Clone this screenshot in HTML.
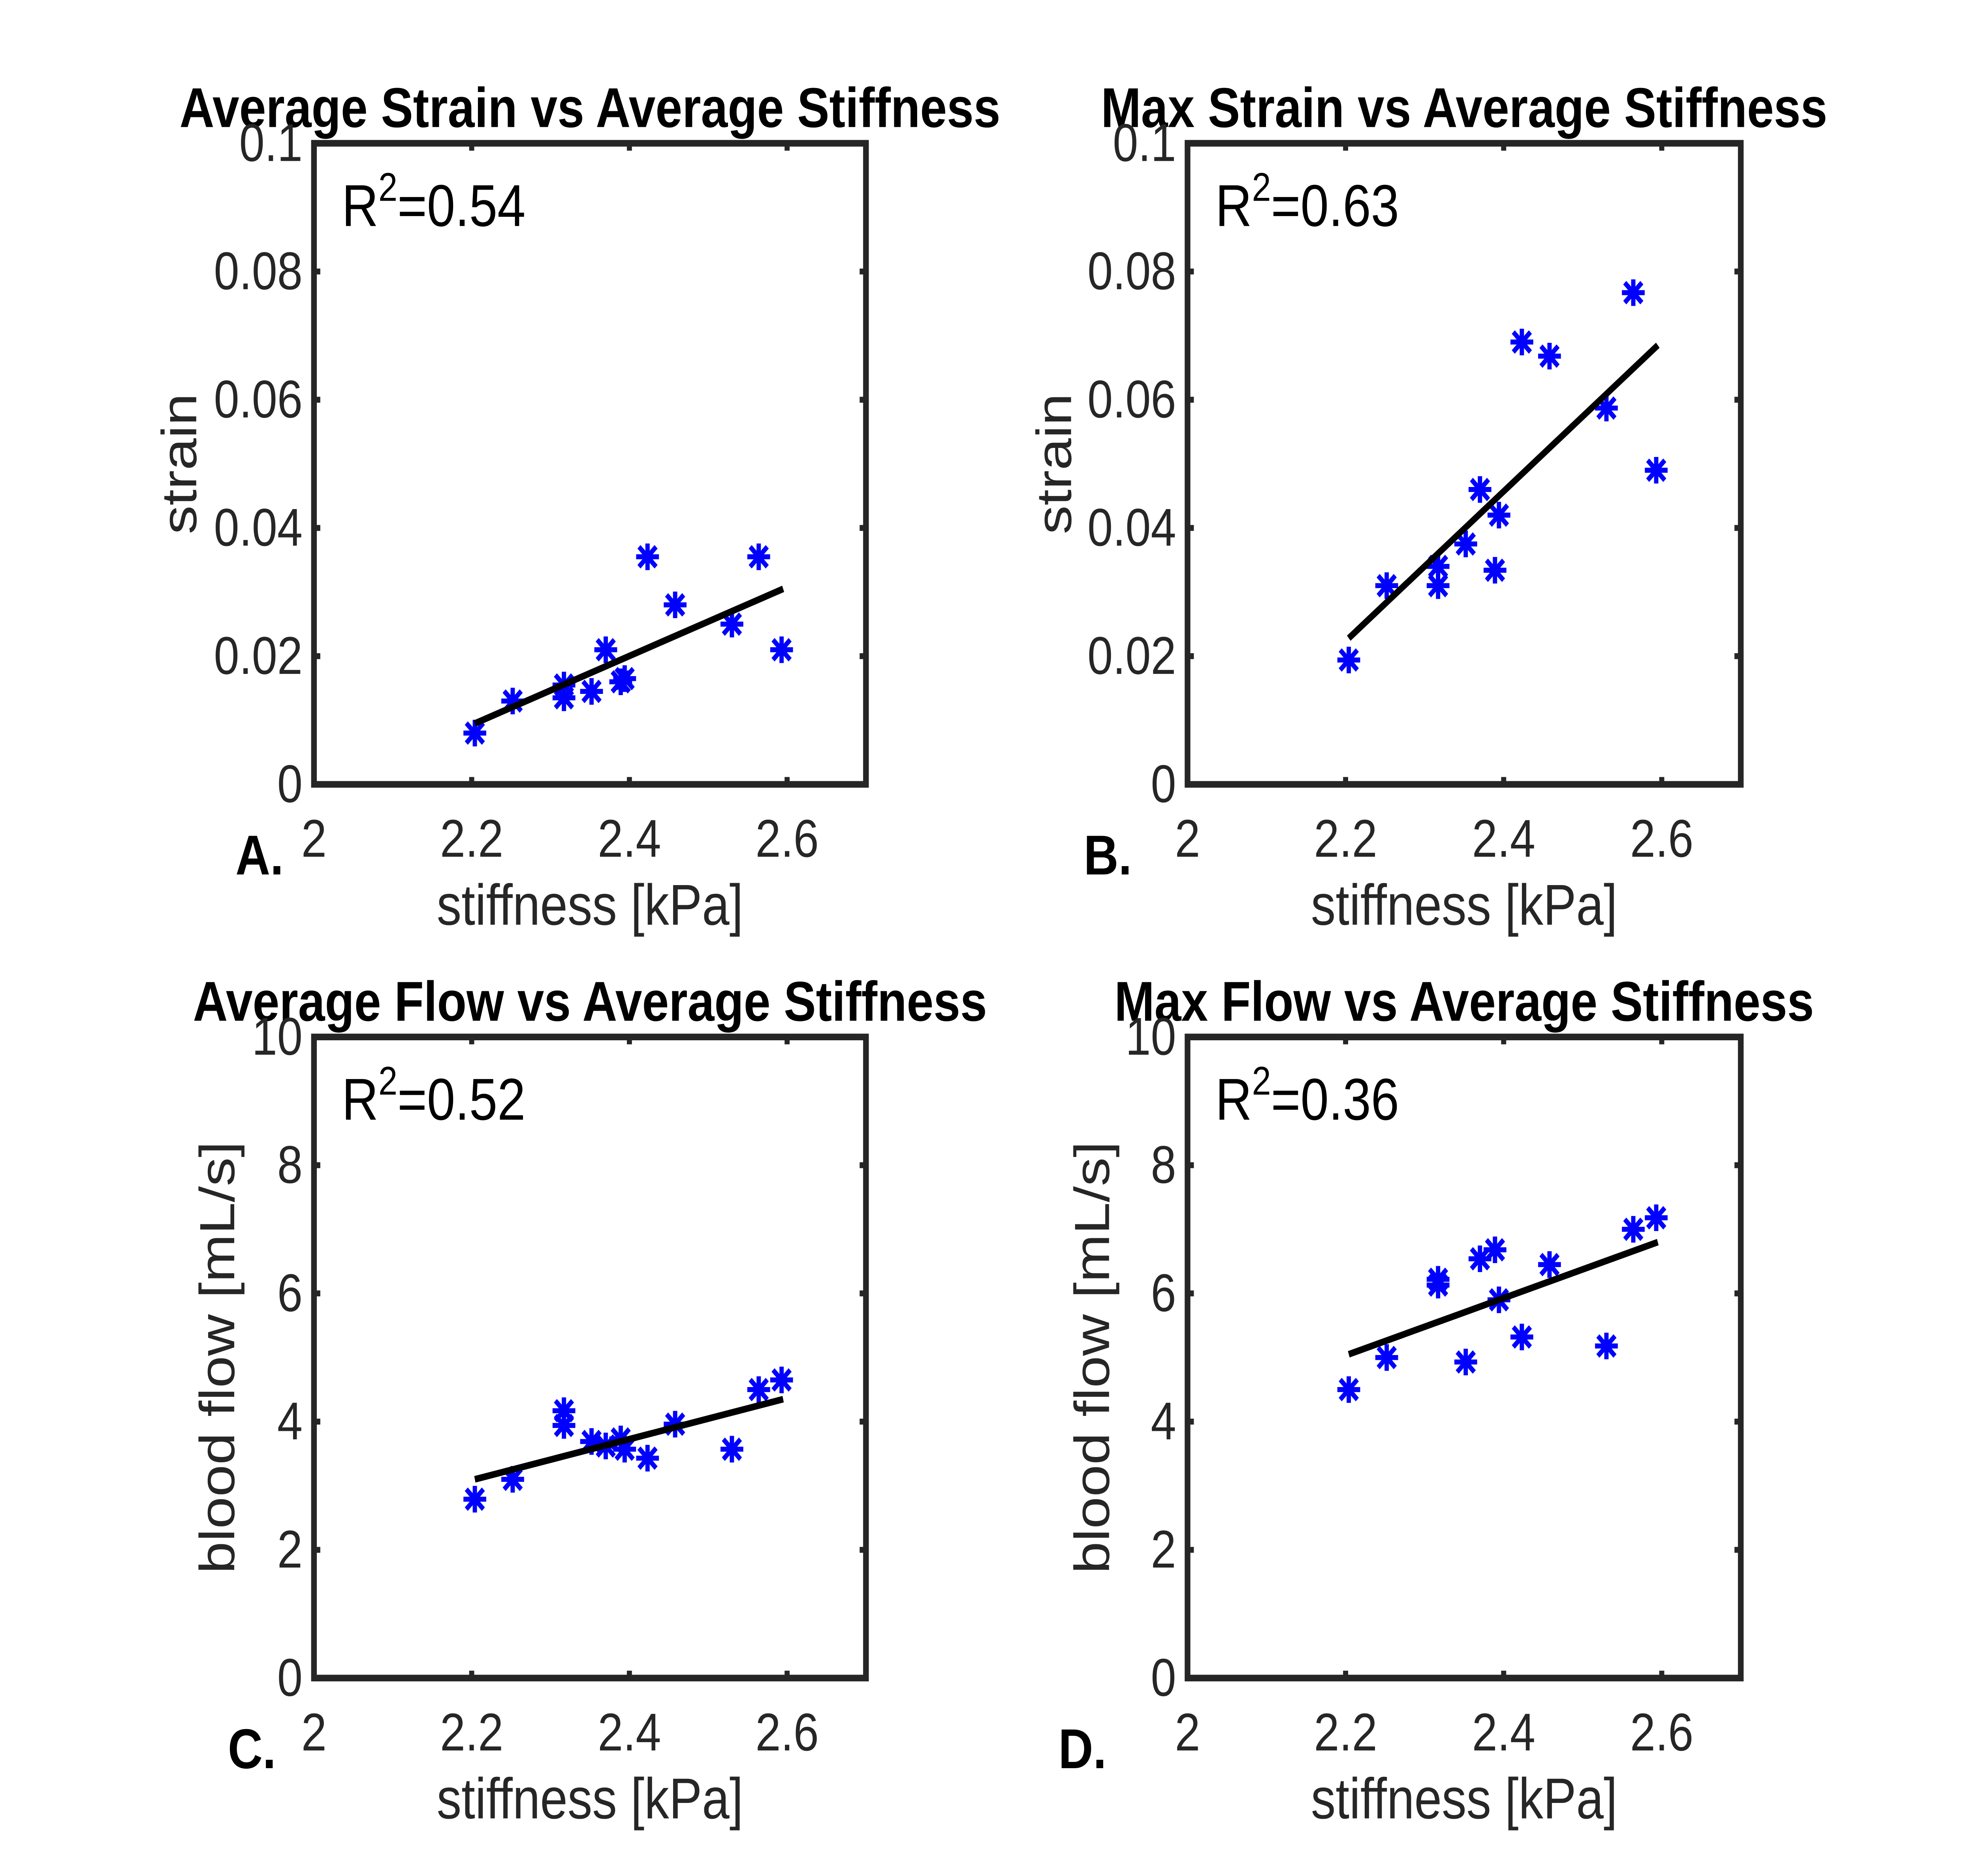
<!DOCTYPE html>
<html><head><meta charset="utf-8"><style>html,body{margin:0;padding:0;background:#fff;overflow:hidden;width:100%;height:100%}svg{display:block;width:100vw;height:100vh}</style></head>
<body>
<svg id="fig" viewBox="0 0 1560 1270" preserveAspectRatio="none" xmlns="http://www.w3.org/2000/svg" font-family="Liberation Sans, Arial, sans-serif"></svg>
<script>
const stiffness = [2.204,2.252,2.317,2.317,2.352,2.37,2.389,2.394,2.423,2.458,2.53,2.564,2.593];
const avgStrain = [0.008,0.013,0.0155,0.0135,0.0145,0.021,0.016,0.0165,0.0355,0.028,0.025,0.0355,0.021];
const maxStrain = [0.0194,0.031,0.034,0.031,0.0375,0.046,0.0334,0.042,0.069,0.0668,0.0587,0.0767,0.049];
const avgFlow = [2.79,3.1,4.17,3.94,3.69,3.62,3.73,3.57,3.43,3.96,3.57,4.5,4.65];
const maxFlow = [4.5,5.0,6.22,6.13,4.93,6.54,6.68,5.9,5.32,6.45,5.18,7.0,7.18];
const fitX = [2.204,2.595];
const fitA = [0.0095,0.0305];
const fitB = [0.0228,0.0685];
const fitC = [3.1,4.35];
const fitD = [5.05,6.8];
const xTicks = [2,2.2,2.4,2.6];
const xTickLabels = ['2','2.2','2.4','2.6'];
const strainTicks = [0,0.02,0.04,0.06,0.08,0.1];
const strainTickLabels = ['0','0.02','0.04','0.06','0.08','0.1'];
const flowTicks = [0,2,4,6,8,10];
const flowTickLabels = ['0','2','4','6','8','10'];

const NS='http://www.w3.org/2000/svg';
const svg=document.getElementById('fig');
function mk(tag,attrs,parent){const e=document.createElementNS(NS,tag);for(const k in attrs)e.setAttribute(k,attrs[k]);(parent||svg).appendChild(e);return e;}

const panels=[
 {id:'a',L:248,R:684,T:97,B:531,ymax:0.1,y:avgStrain,fit:fitA,ticks:strainTicks,labels:strainTickLabels,title:'Average Strain vs Average Stiffness',ylab:'strain',ylx:155,r2:'0.54',letter:'A.',lx:186},
 {id:'b',L:938,R:1375,T:97,B:531,ymax:0.1,y:maxStrain,fit:fitB,ticks:strainTicks,labels:strainTickLabels,title:'Max Strain vs Average Stiffness',ylab:'strain',ylx:846,r2:'0.63',letter:'B.',lx:856},
 {id:'c',L:248,R:684,T:702,B:1136,ymax:10,y:avgFlow,fit:fitC,ticks:flowTicks,labels:flowTickLabels,title:'Average Flow vs Average Stiffness',ylab:'blood flow [mL/s]',ylx:185,r2:'0.52',letter:'C.',lx:180},
 {id:'d',L:938,R:1375,T:702,B:1136,ymax:10,y:maxFlow,fit:fitD,ticks:flowTicks,labels:flowTickLabels,title:'Max Flow vs Average Stiffness',ylab:'blood flow [mL/s]',ylx:876,r2:'0.36',letter:'D.',lx:836}
];
panels.forEach(p=>{
 const g=mk('g',{});
 
 
 const sx=v=>p.L+(v-2)/0.7*(p.R-p.L);
 const sy=v=>p.B-(v/p.ymax)*(p.B-p.T);
 const cx=(p.L+p.R)/2;
 const t=mk('text',{x:cx,y:p.T-11,'text-anchor':'middle','font-size':38,'font-weight':'bold',fill:'#000'},g);t.textContent=p.title;
 
 xTicks.forEach((v,i)=>{
  const x=sx(v);
  if(i>0){mk('line',{x1:x,x2:x,y1:p.B,y2:p.B-5,stroke:'#262626','stroke-width':4},g);mk('line',{x1:x,x2:x,y1:p.T,y2:p.T+5,stroke:'#262626','stroke-width':4},g);}
  const l=mk('text',{x:x,y:p.B+49,'text-anchor':'middle','font-size':36,fill:'#262626'},g);l.textContent=xTickLabels[i];
  
 });
 p.ticks.forEach((v,i)=>{
  const y=sy(v);
  if(i>0&&i<p.ticks.length-1){mk('line',{x1:p.L,x2:p.L+5,y1:y,y2:y,stroke:'#262626','stroke-width':4},g);mk('line',{x1:p.R,x2:p.R-5,y1:y,y2:y,stroke:'#262626','stroke-width':4},g);}
  const l=mk('text',{x:p.L-9,y:y+12,'text-anchor':'end','font-size':36,fill:'#262626'},g);l.textContent=p.labels[i];
  
 });
 const box=mk('rect',{x:p.L,y:p.T,width:p.R-p.L,height:p.B-p.T,fill:'none',stroke:'#262626','stroke-width':4.5},g);
 
 const xl=mk('text',{x:cx,y:p.B+95,'text-anchor':'middle','font-size':39,fill:'#262626'},g);xl.textContent='stiffness [kPa]';
 
 const yc=(p.T+p.B)/2;
 const yl=mk('text',{x:p.ylx,y:yc,'text-anchor':'middle','font-size':39,fill:'#262626',transform:`rotate(-90 ${p.ylx} ${yc})`},g);yl.textContent=p.ylab;
 
 const lt=mk('text',{x:p.lx,y:p.B+61,'font-size':38,'font-weight':'bold',fill:'#000'},g);lt.textContent=p.letter;
 
 const r=mk('text',{x:p.L+22,y:p.T+56,'font-size':40,fill:'#000'},g);
 
 const s1=mk('tspan',{},r);s1.textContent='R';
 const s2=mk('tspan',{dy:-17,'font-size':27},r);s2.textContent='2';
 const s3=mk('tspan',{dy:17},r);s3.textContent='='+p.r2;
 stiffness.forEach((xv,i)=>{
  const x=sx(xv),y=sy(p.y[i]),h=9;
  const m=mk('g',{stroke:'#0000ff','stroke-width':3.4},g);
  
  mk('line',{x1:x-h,x2:x+h,y1:y,y2:y},m);
  mk('line',{x1:x,x2:x,y1:y-h,y2:y+h},m);
  mk('line',{x1:x-h*0.75,x2:x+h*0.75,y1:y-h*0.75,y2:y+h*0.75},m);
  mk('line',{x1:x-h*0.75,x2:x+h*0.75,y1:y+h*0.75,y2:y-h*0.75},m);
 });
 const f=mk('line',{x1:sx(fitX[0]),y1:sy(p.fit[0]),x2:sx(fitX[1]),y2:sy(p.fit[1]),stroke:'#000','stroke-width':4.5},g);
 
});
</script>
</body></html>
